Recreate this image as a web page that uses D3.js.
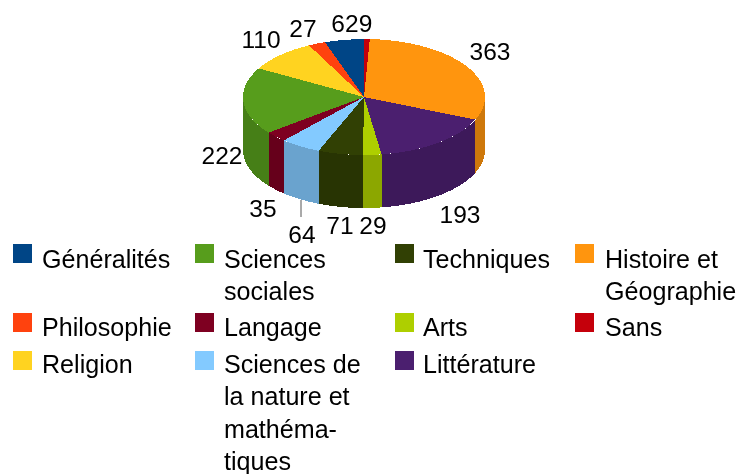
<!DOCTYPE html>
<html>
<head>
<meta charset="utf-8">
<script src="https://cdn.jsdelivr.net/npm/d3@7"></script>
<style>
  html, body { margin: 0; padding: 0; background: #fff; }
  svg { display: block; filter: blur(0.4px); }
  text { font-family: "Liberation Sans", Arial, sans-serif; fill: #000; }
</style>
</head>
<body>
<svg id="chart" width="736" height="474"></svg>
<script>
// counter-clockwise from the top, same order as the legend columns read by row
const categories = ['Généralités', 'Philosophie', 'Religion', 'Sciences sociales', 'Langage',
    'Sciences de la nature et mathématiques', 'Techniques', 'Arts', 'Littérature',
    'Histoire et Géographie', 'Sans'];
const values = [62, 27, 110, 222, 35, 64, 71, 29, 193, 363, 9];
const colors = ['#004586', '#ff420e', '#ffd320', '#579d1c', '#7e0021',
    '#83caff', '#314004', '#aecf00', '#4b1f6f', '#ff950e', '#c5000b'];

const svg = d3.select('#chart');

const x = d3.scaleLinear().domain([-1, 1]).range([243, 485]);
const y = d3.scaleLinear().domain([-1, 1]).range([39, 155]);
const depth = 53;

const rx = (x(1) - x(-1)) / 2;
const ry = (y(1) - y(-1)) / 2;

const slices = d3.pie().sort(null).startAngle(0).endAngle(-2 * Math.PI)
    .value(d => d.value)(categories.map((name, i) => ({ name, value: values[i], color: colors[i] })));

// walls first, only the part of each slice on the front half
const frontStart = -1.5 * Math.PI;
const frontEnd = -0.5 * Math.PI;
const rim = a => [x(Math.sin(a)), y(-Math.cos(a))];

const walls = svg.append('g').attr('shape-rendering', 'crispEdges');
slices.forEach(s => {
    const a0 = Math.max(Math.min(s.startAngle, s.endAngle), frontStart);
    const a1 = Math.min(Math.max(s.startAngle, s.endAngle), frontEnd);
    if (a1 <= a0) return;
    const upper = d3.range(0, 41).map(i => rim(a0 + (a1 - a0) * i / 40));
    const lower = upper.slice().reverse().map(p => [p[0], p[1] + depth]);
    walls.append('path')
        .attr('d', d3.line()(upper.concat(lower)) + 'Z')
        .attr('fill', d3.color(s.data.color).darker(0.6));
});

// top face
const arc = d3.arc().innerRadius(0).outerRadius(rx);
svg.append('g')
    .attr('shape-rendering', 'crispEdges')
    .attr('transform', `translate(${x(0)},${y(0)}) scale(1,${ry / rx})`)
    .selectAll('path')
    .data(slices)
    .enter()
    .append('path')
    .attr('d', arc)
    .attr('fill', d => d.data.color);

// value labels, placed by hand like the original
const labelAt = {
    'Généralités': [345, 32], 'Philosophie': [303, 37], 'Religion': [261, 48],
    'Sciences sociales': [222, 164], 'Langage': [263, 217],
    'Sciences de la nature et mathématiques': [302, 243], 'Techniques': [340, 234],
    'Arts': [373, 234], 'Littérature': [460, 223], 'Histoire et Géographie': [490, 60], 'Sans': [365.5, 32]
};
svg.append('line')
    .attr('x1', 301).attr('x2', 301).attr('y1', 200).attr('y2', 217)
    .attr('stroke', '#555').attr('stroke-width', 1);

svg.append('g').selectAll('text')
    .data(slices)
    .enter()
    .append('text')
    .attr('x', d => labelAt[d.data.name][0])
    .attr('y', d => labelAt[d.data.name][1])
    .attr('text-anchor', 'middle')
    .attr('font-size', 24.5)
    .text(d => d.data.value);

// legend, wrapped by hand
const legendRows = [
    { y: 244, base: 268, items: [
        ['Généralités', 13, 42, ['Généralités']],
        ['Sciences sociales', 195, 224, ['Sciences', 'sociales']],
        ['Techniques', 395, 423, ['Techniques']],
        ['Histoire et Géographie', 575, 605, ['Histoire et', 'Géographie']]] },
    { y: 313, base: 336, items: [
        ['Philosophie', 13, 42, ['Philosophie']],
        ['Langage', 195, 224, ['Langage']],
        ['Arts', 395, 423, ['Arts']],
        ['Sans', 575, 605, ['Sans']]] },
    { y: 351, base: 373, items: [
        ['Religion', 13, 42, ['Religion']],
        ['Sciences de la nature et mathématiques', 195, 224, ['Sciences de', 'la nature et', 'mathéma-', 'tiques']],
        ['Littérature', 395, 423, ['Littérature']]] }
];
const color = d3.scaleOrdinal().domain(categories).range(colors);

const legend = svg.append('g');
legendRows.forEach(row => {
    row.items.forEach(([name, sx, tx, lines]) => {
        legend.append('rect')
            .attr('x', sx).attr('y', row.y)
            .attr('width', 19).attr('height', 19)
            .attr('fill', color(name));
        lines.forEach((line, i) => {
            legend.append('text')
                .attr('x', tx)
                .attr('y', row.base + i * 32.3)
                .attr('font-size', 25.1)
                .text(line);
        });
    });
});
</script>
</body>
</html>
